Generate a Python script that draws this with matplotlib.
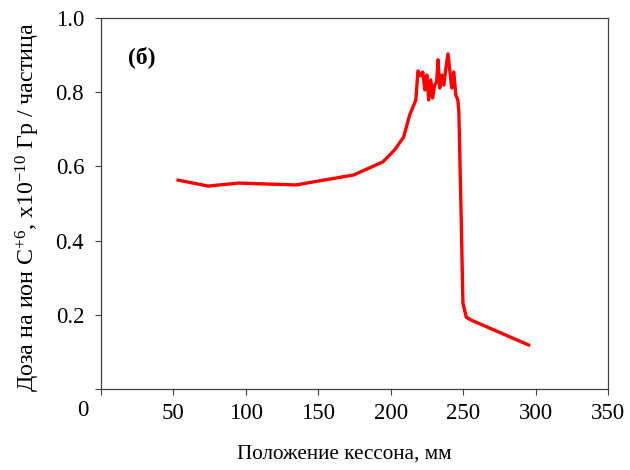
import matplotlib
matplotlib.use("Agg")
import matplotlib.pyplot as plt
from matplotlib.transforms import offset_copy

plt.rcParams['font.family'] = ['Liberation Serif', 'DejaVu Serif']
plt.rcParams['mathtext.fontset'] = 'custom'
plt.rcParams['mathtext.rm'] = 'Liberation Serif'
plt.rcParams['mathtext.it'] = 'Liberation Serif:italic'
plt.rcParams['mathtext.bf'] = 'Liberation Serif:bold'

# Data (position in mm, dose x1e-10 Gy/particle)
position = [53.4, 74.0, 95.0, 134.6, 174.6, 194.6, 202.7, 209.0, 213.2, 214.6, 217.4,
            218.9, 220.8, 222.2, 223.6, 225.0, 226.3, 227.7, 229.0, 230.4, 231.8,
            232.7, 233.9, 235.3, 236.7, 238.0, 239.6, 240.8, 242.2, 243.6, 245.0,
            246.4, 247.1, 248.8, 249.9, 252.2, 255.6, 295.2]
dose = [0.563, 0.547, 0.555, 0.550, 0.577, 0.612, 0.644, 0.679, 0.739, 0.752, 0.779,
        0.857, 0.844, 0.854, 0.806, 0.846, 0.779, 0.833, 0.784, 0.819, 0.827,
        0.887, 0.811, 0.846, 0.819, 0.860, 0.903, 0.860, 0.811, 0.854, 0.792,
        0.779, 0.747, 0.447, 0.232, 0.194, 0.186, 0.119]

xticks = [0, 50, 100, 150, 200, 250, 300, 350]
yticks = [0.0, 0.2, 0.4, 0.6, 0.8, 1.0]
ytick_labels = ['', '0.2', '0.4', '0.6', '0.8', '1.0']

fig = plt.figure(figsize=(6.3, 4.7), dpi=100)
ax = fig.add_axes([0.160, 0.172, 0.805, 0.790])

ax.plot(position, dose, color='#FF0000', lw=2.4, solid_joinstyle='round')

ax.set_xlim(0, 350)
ax.set_ylim(0, 1.0)
ax.set_xticks(xticks)
ax.set_xticklabels([''] + [str(v) for v in xticks[1:]])
ax.set_yticks(yticks)
ax.set_yticklabels(ytick_labels)
ax.tick_params(axis='both', direction='out', length=4, width=0.8, color='#404040',
               labelsize=16.5, pad=6)
ax.tick_params(axis='y', pad=8)
for sp in ax.spines.values():
    sp.set_color('#404040')
    sp.set_linewidth(0.9)

# "0" label shifted to the left as in the reference
tr = offset_copy(ax.transData, fig=fig, x=-13, y=-7.5, units='points')
ax.text(0, 0, '0', transform=tr, ha='center', va='top', fontsize=16.5)

ax.set_xlabel('Положение кессона, мм', fontsize=15.3, labelpad=13)
ax.xaxis.set_label_coords(0.481, -0.148)
ax.set_ylabel(r'Доза на ион C$^{\mathrm{+6}}$, x10$^{\mathrm{-10}}$ Гр / частица', fontsize=17.3)
ax.yaxis.set_label_coords(-0.116, 0.49)

ax.text(28, 0.895, '(б)', fontsize=17, fontweight='bold', ha='center', va='center')

fig.savefig('out.png', dpi=100)
